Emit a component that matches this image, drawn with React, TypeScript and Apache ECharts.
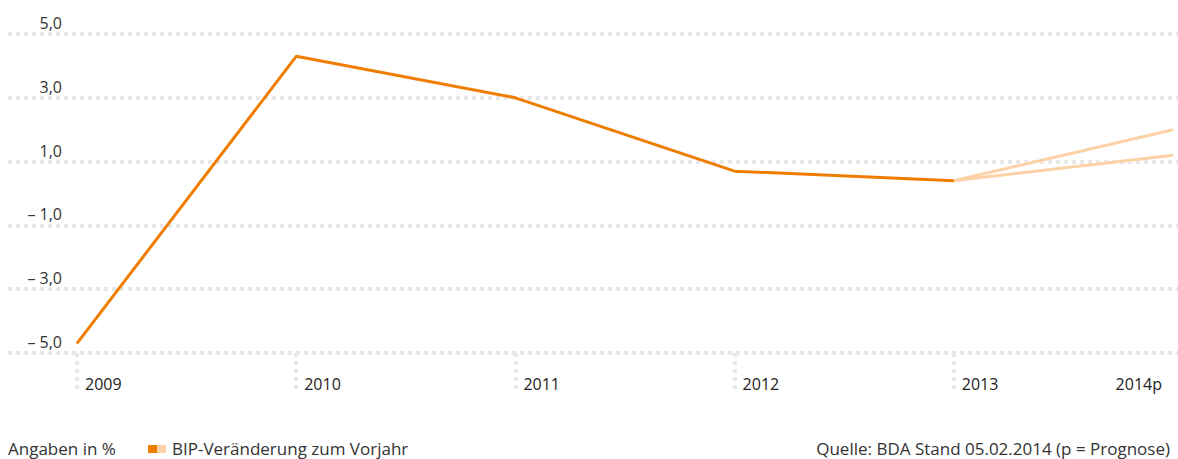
import React, { useEffect, useRef } from "react";
import * as echarts from "echarts";

const years = ["2009", "2010", "2011", "2012", "2013", "2014p"];
const bipChange = [-4.7, 4.3, 3.0, 0.7, 0.4, null];
const forecastHigh = [null, null, null, null, 0.4, 2.0];
const forecastLow = [null, null, null, null, 0.4, 1.2];
const yMin = -5;
const yMax = 5;
const yStep = 2;

const unitNote = "Angaben in %";
const legendLabel = "BIP-Veränderung zum Vorjahr";
const sourceNote = "Quelle: BDA Stand 05.02.2014 (p = Prognose)";

const FONT = "'Open Sans', 'Noto Sans', sans-serif";
const ORANGE = "#ef7d00";
const LIGHT = "#fdd1a6";
const GRID_GREY = "#e8e8e8";

function fmt(v: number): string {
  const s = Math.abs(v).toFixed(1).replace(".", ",");
  return v < 0 ? "– " + s : s;
}

export default function App() {
  const ref = useRef<HTMLDivElement>(null);
  useEffect(() => {
    document.body.style.margin = "0";
    if (!ref.current) return;
    const chart = echarts.init(ref.current, null, { renderer: "svg" });
    const lastIdx = years.length - 1;
    const footStyle = {
      font: `17px ${FONT}`,
      fill: "#333",
      verticalAlign: "middle",
    };
    chart.setOption({
      animation: false,
      grid: [
        { left: 8, right: 0, top: 34, bottom: 106 },
        { left: 77, right: 5, top: 34, bottom: 106 },
      ],
      xAxis: [
        { gridIndex: 0, type: "value", show: false, min: 0, max: 1 },
        {
          gridIndex: 1,
          type: "category",
          boundaryGap: false,
          data: years.map((y, i) =>
            i === lastIdx
              ? {
                  value: y,
                  textStyle: {
                    align: "right",
                    verticalAlign: "middle",
                    padding: [0, 11, 0, 0],
                  },
                }
              : y
          ),
          axisLine: { show: false, onZero: false },
          axisTick: {
            show: true,
            length: 38,
            interval: (index: number) => index < lastIdx,
            lineStyle: { color: GRID_GREY, width: 4, type: [4, 4] },
          },
          axisLabel: {
            interval: 0,
            align: "left",
            verticalAlign: "middle",
            margin: 31,
            padding: [0, 0, 0, 8],
            fontFamily: FONT,
            fontSize: 16,
            color: "#222",
          },
          splitLine: { show: false },
        },
      ],
      yAxis: [
        {
          gridIndex: 0,
          type: "value",
          min: yMin,
          max: yMax,
          interval: yStep,
          axisLine: { show: false },
          axisTick: { show: false },
          axisLabel: {
            formatter: (v: number) => fmt(v),
            align: "right",
            verticalAlign: "bottom",
            margin: -54,
            padding: [0, 0, 3, 0],
            fontFamily: FONT,
            fontSize: 16,
            color: "#333",
          },
          splitLine: {
            show: true,
            lineStyle: { color: GRID_GREY, width: 4, type: [4, 4] },
          },
        },
        {
          gridIndex: 1,
          type: "value",
          min: yMin,
          max: yMax,
          interval: yStep,
          show: false,
          splitLine: { show: false },
        },
      ],
      series: [
        {
          type: "line",
          xAxisIndex: 1,
          yAxisIndex: 1,
          data: forecastHigh,
          showSymbol: false,
          symbol: "none",
          lineStyle: { color: LIGHT, width: 3 },
        },
        {
          type: "line",
          xAxisIndex: 1,
          yAxisIndex: 1,
          data: forecastLow,
          showSymbol: false,
          symbol: "none",
          lineStyle: { color: LIGHT, width: 3 },
        },
        {
          type: "line",
          xAxisIndex: 1,
          yAxisIndex: 1,
          data: bipChange,
          showSymbol: false,
          symbol: "none",
          lineStyle: { color: ORANGE, width: 3 },
        },
      ],
      graphic: [
        {
          type: "text",
          x: 8,
          y: 448,
          style: { ...footStyle, text: unitNote, align: "left" },
        },
        {
          type: "rect",
          shape: { x: 148, y: 445, width: 9, height: 8 },
          style: { fill: ORANGE },
        },
        {
          type: "rect",
          shape: { x: 157, y: 445, width: 9, height: 8 },
          style: { fill: LIGHT },
        },
        {
          type: "text",
          x: 172,
          y: 448,
          style: { ...footStyle, text: legendLabel, align: "left" },
        },
        {
          type: "text",
          x: 1170,
          y: 448,
          style: { ...footStyle, text: sourceNote, align: "right" },
        },
      ],
    });
    return () => chart.dispose();
  }, []);
  return <div ref={ref} style={{ width: 1178, height: 459 }} />;
}
